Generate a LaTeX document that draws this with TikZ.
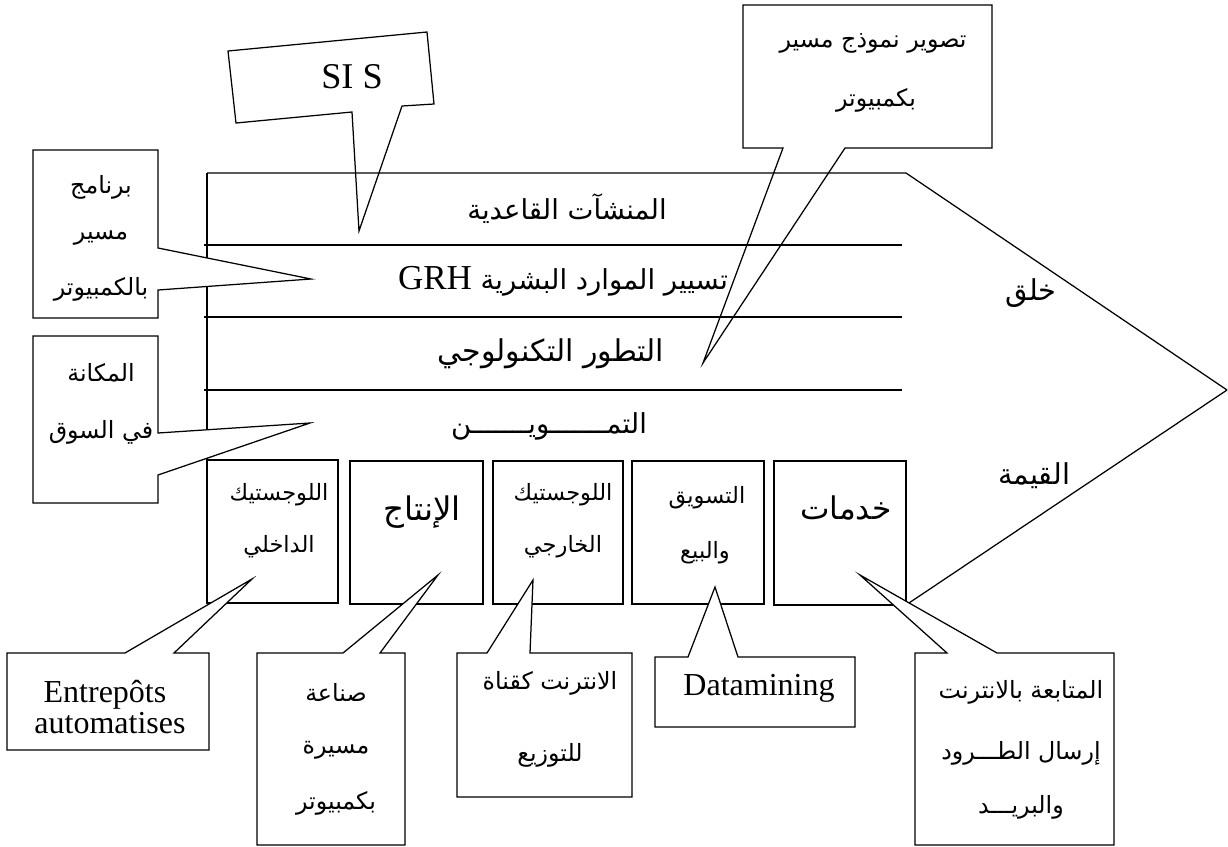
\documentclass[tikz,border=0pt]{standalone}
\usepackage{fontspec}
\setmainfont{Liberation Serif}
\newfontfamily\arabicfont[Script=Arabic]{DejaVu Sans}
\TeXXeTstate=1
\newcommand{\artxt}[1]{{\arabicfont\beginR #1\endR}}

\begin{document}
\begin{tikzpicture}[x=0.4pt,y=-0.4pt,line width=0.5pt,line join=miter,
  callout/.style={draw,fill=white},
  frame/.style={draw},
  boxframe/.style={draw},
  txt/.style={inner sep=0pt,anchor=center},
  rowlbl/.style={txt,font=\fontsize{11}{13}\selectfont},
  sidelbl/.style={txt,font=\fontsize{11.5}{13}\selectfont},
  boxsmall/.style={txt,font=\fontsize{9}{11}\selectfont},
  boxbig/.style={txt,font=\fontsize{13}{15}\selectfont},
  calltxt/.style={txt,font=\fontsize{9.5}{11}\selectfont},
  latinbig/.style={txt,font=\fontsize{14.5}{16}\selectfont},
  latin/.style={txt,font=\fontsize{12.8}{14}\selectfont}]
\useasboundingbox (0,0) rectangle (1228,847);

% callouts above the value chain (drawn first, frame lines run over them)
\draw[callout] (228,51) -- (427,32) -- (434,104) -- (402,106) -- (359,231)
  -- (352,112) -- (236,123) -- cycle;
\draw[callout] (743,5) -- (992,5) -- (992,148) -- (845,148) -- (703,363)
  -- (783,148) -- (743,148) -- cycle;

% value chain frame: support activities and arrow head
\coordinate (tl) at (207,173);
\coordinate (tr) at (906,173);
\coordinate (apex) at (1227,390);
\draw[frame] (tl) -- (tr) -- (apex);
\draw[frame] (tl) -- (207,460);
\draw[frame] (204,245) -- (902,245);
\draw[frame] (204,317) -- (902,317);
\draw[frame] (204,390) -- (902,390);

% primary activities
\draw[boxframe] (207,460) rectangle (338,603);
\draw[boxframe] (350,461) rectangle (483,604);
\draw[boxframe] (493,461) rectangle (623,604);
\draw[boxframe] (632,461) rectangle (764,604);
\draw[boxframe] (774,461) rectangle (906,605);
\coordinate (b5se) at (906,605);
\draw[frame] (apex) -- (b5se);

% callouts on the left and below
\draw[callout] (33,150) -- (158,150) -- (158,248) -- (311,279) -- (158,290)
  -- (158,318) -- (33,318) -- cycle;
\draw[callout] (33,336) -- (158,336) -- (158,433) -- (310,423) -- (158,475)
  -- (158,503) -- (33,503) -- cycle;
\draw[callout] (7,653) -- (125,653) -- (252,579) -- (174,653) -- (209,653)
  -- (209,750) -- (7,750) -- cycle;
\draw[callout] (257,653) -- (343,653) -- (438,575) -- (380,653) -- (405,653)
  -- (405,845) -- (257,845) -- cycle;
\draw[callout] (457,653) -- (487,653) -- (533,580) -- (530,653) -- (632,653)
  -- (632,797) -- (457,797) -- cycle;
\draw[callout] (655,657) -- (688,657) -- (715,587) -- (738,657) -- (855,657)
  -- (855,727) -- (655,727) -- cycle;
\draw[callout] (915,653) -- (947,653) -- (860,575) -- (997,653) -- (1114,653)
  -- (1114,845) -- (915,845) -- cycle;

% row labels
\node[rowlbl] (r1) at (567,209) {\artxt{المنشآت القاعدية}};
\node[rowlbl] (r2) at (563,281) {\artxt{تسيير الموارد البشرية \beginL{\rmfamily\fontsize{14}{16}\selectfont GRH}\endL}};
\node[rowlbl,font=\fontsize{12}{14}\selectfont] (r3) at (551,354) {\artxt{التطور التكنولوجي}};
\node[rowlbl] (r4) at (549,426) {\artxt{التمـــــــويـــــــن}};

% arrow head labels
\node[sidelbl] (s1) at (1031,293) {\artxt{خلق}};
\node[sidelbl] (s2) at (1034,476) {\artxt{القيمة}};

% primary activity labels
\node[boxsmall] (b1a) at (279,495) {\artxt{اللوجستيك}};
\node[boxsmall] (b1b) at (279,547) {\artxt{الداخلي}};
\node[boxbig] (b2a) at (422,512) {\artxt{الإنتاج}};
\node[boxsmall] (b3a) at (563,495) {\artxt{اللوجستيك}};
\node[boxsmall] (b3b) at (563,547) {\artxt{الخارجي}};
\node[boxsmall] (b4a) at (707,498) {\artxt{التسويق}};
\node[boxsmall] (b4b) at (705,553) {\artxt{والبيع}};
\node[boxbig,font=\fontsize{12.5}{14}\selectfont] (b5a) at (846,508) {\artxt{خدمات}};

% callout texts
\node[latinbig] (c1) at (352,77) {SI S};
\node[calltxt] (c2a) at (873,43) {\artxt{تصوير نموذج مسير}};
\node[calltxt] (c2b) at (876,100) {\artxt{بكمبيوتر}};
\node[calltxt] (c3a) at (101,187) {\artxt{برنامج}};
\node[calltxt] (c3b) at (101,238) {\artxt{مسير}};
\node[calltxt] (c3c) at (101,289) {\artxt{بالكمبيوتر}};
\node[calltxt] (c4a) at (101,373) {\artxt{المكانة}};
\node[calltxt] (c4b) at (101,432) {\artxt{في السوق}};
\node[latin] (c5a) at (105,695) {Entrepôts};
\node[latin] (c5b) at (110,723) {automatises};
\node[calltxt] (c6a) at (336,692) {\artxt{صناعة}};
\node[calltxt] (c6b) at (336,750) {\artxt{مسيرة}};
\node[calltxt] (c6c) at (336,803) {\artxt{بكمبيوتر}};
\node[calltxt] (c7a) at (550,683) {\artxt{الانترنت كقناة}};
\node[calltxt] (c7b) at (550,755) {\artxt{للتوزيع}};
\node[latin] (c8) at (759,688) {Datamining};
\node[calltxt] (c9a) at (1021,692) {\artxt{المتابعة بالانترنت}};
\node[calltxt] (c9b) at (1021,753) {\artxt{إرسال الطـــرود}};
\node[calltxt] (c9c) at (1021,807) {\artxt{والبريـــد}};
\end{tikzpicture}
\end{document}
